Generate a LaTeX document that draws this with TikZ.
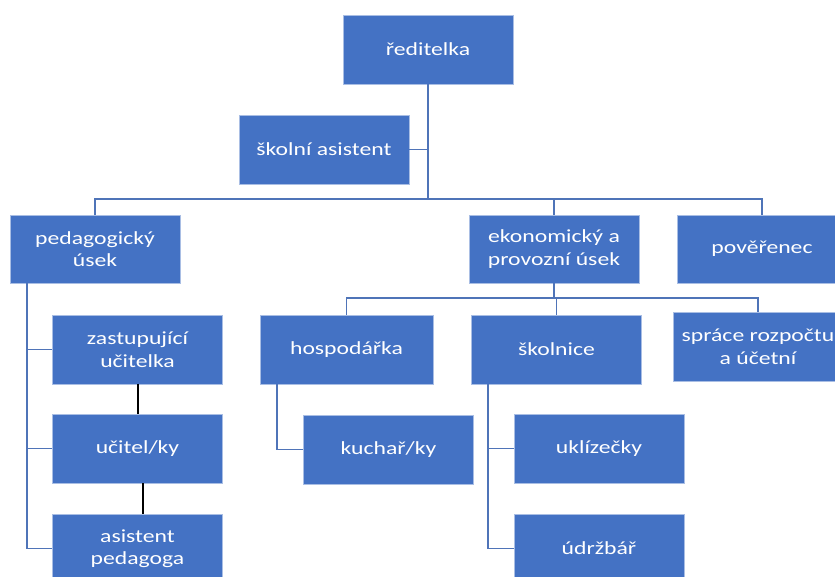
\documentclass[tikz,border=0pt]{standalone}
\usepackage{fontspec}
\setmainfont{Carlito}[FakeStretch=1.28]
\definecolor{boxblue}{HTML}{4472C4}
\definecolor{boxedge}{HTML}{A9BEE4}
\definecolor{linkblue}{HTML}{4F74B8}
\begin{document}
\begin{tikzpicture}[x=1pt,y=-1pt,
  orgbox/.style={rectangle, fill=boxblue, draw=boxedge, line width=0.8pt,
    minimum width=170pt, minimum height=69pt, inner sep=2pt,
    text=white, align=center, font=\fontsize{18.5}{22.5}\selectfont},
  conn/.style={draw=linkblue, line width=1.6pt},
  blk/.style={draw=black, line width=2pt}]
\useasboundingbox (0,0) rectangle (835,576);
\clip (0,0) rectangle (835,576);
% nodes
\node[orgbox] (red) at (428,49.5) {ředitelka};
\node[orgbox] (skolni) at (324,149.5) {školní asistent};
\node[orgbox, minimum height=68pt] (ped) at (95,249) {pedagogický\\úsek};
\node[orgbox, minimum height=68pt] (ekon) at (554,249) {ekonomický a\\provozní úsek};
\node[orgbox, minimum height=68pt] (pover) at (762,249) {pověřenec};
\node[orgbox] (zast) at (137.5,349.5) {zastupující\\učitelka};
\node[orgbox] (ucitel) at (137.5,448.5) {učitel/ky};
\node[orgbox] (asist) at (137.5,548.5) {asistent\\pedagoga};
\node[orgbox, minimum width=173pt] (hosp) at (346.5,349.5) {hospodářka};
\node[orgbox] (skolnice) at (556.5,349.5) {školnice};
\node[orgbox] (sprace) at (758,346.5) {spráce rozpočtu\\a účetní};
\node[orgbox] (kuchar) at (388.5,449.5) {kuchař/ky};
\node[orgbox] (uklid) at (599,448.5) {uklízečky};
\node[orgbox] (udrz) at (599,548.5) {údržbář};
% helper coordinates
\coordinate (b1) at (0,199);
\coordinate (b2) at (0,298);
\coordinate (pl) at (27,0);
\coordinate (hl) at (277,0);
\coordinate (sl) at (488,0);
% top level
\draw[conn] (red.south) -- (red.south |- b1);
\draw[conn] (skolni.east) -- (skolni.east -| red.south);
\draw[conn] (ped.north) -- (ped.north |- b1) -- (pover.north |- b1) -- (pover.north);
\draw[conn] (ekon.north) -- (ekon.north |- b1);
% economic branch
\draw[conn] (ekon.south) -- (ekon.south |- b2);
\draw[conn] (hosp.north) -- (hosp.north |- b2) -- (sprace.north |- b2) -- (sprace.north);
\draw[conn] (skolnice.north) -- (skolnice.north |- b2);
% pedagogic branch
\draw[conn] (ped.south -| pl) |- (asist.west);
\draw[conn] (zast.west) -- (zast.west -| pl);
\draw[conn] (ucitel.west) -- (ucitel.west -| pl);
\draw[blk] (zast.south) -- (ucitel.north);
\draw[blk] ([xshift=5.5pt]ucitel.south) -- ([xshift=5.5pt]asist.north);
% hospodarka
\draw[conn] (hosp.south -| hl) |- (kuchar.west);
% skolnice
\draw[conn] (skolnice.south -| sl) |- (udrz.west);
\draw[conn] (uklid.west) -- (uklid.west -| sl);
\end{tikzpicture}
\end{document}
